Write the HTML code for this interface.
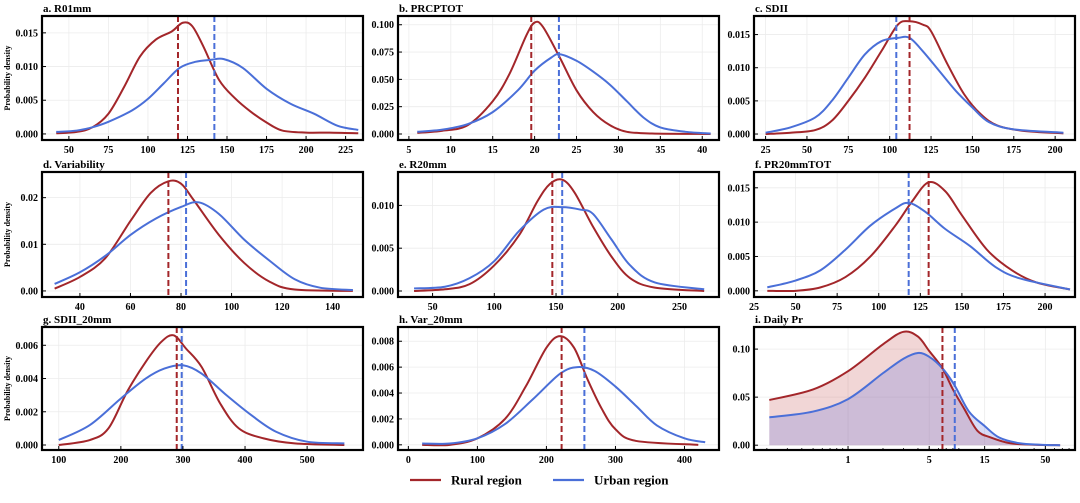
<!DOCTYPE html>
<html><head><meta charset="utf-8"><style>
body{margin:0;background:#fff;}
svg text{font-family:"Liberation Serif",serif;font-weight:bold;}
</style></head><body>
<svg id="fig" width="1080" height="498" viewBox="0 0 1080 498" xmlns="http://www.w3.org/2000/svg"></svg>
<script>
// ---- data (per panel) ----
const aRuralX=[42,55,65,75,85,95,105,115,122,128,135,145,155,165,175,185,200,215,233];
const aRuralY=[0.0001,0.0003,0.001,0.003,0.007,0.0115,0.014,0.0152,0.0165,0.016,0.013,0.008,0.0053,0.0033,0.0017,0.0005,0.0002,0.0002,0.0001];
const aUrbanX=[42,55,65,75,90,100,110,120,130,140,148,160,175,190,205,220,233];
const aUrbanY=[0.0003,0.0005,0.001,0.0018,0.0035,0.0052,0.0075,0.0098,0.0107,0.011,0.0111,0.0098,0.0067,0.0045,0.003,0.0012,0.0006];
const bRuralX=[6,9,12,15,17,19,20,21,23,25,27,29,31,34,41];
const bRuralY=[0.001,0.003,0.008,0.03,0.055,0.09,0.102,0.098,0.07,0.04,0.02,0.008,0.002,0.0005,0];
const bUrbanX=[6,9,12,15,18,20,22,23,25,27,29,31,33,35,38,41];
const bUrbanY=[0.002,0.004,0.009,0.02,0.04,0.058,0.07,0.073,0.067,0.057,0.045,0.03,0.015,0.006,0.002,0.0005];
const cRuralX=[25,40,55,65,75,85,95,105,112,120,125,135,145,155,165,180,205];
const cRuralY=[0,0.0002,0.0006,0.002,0.005,0.0085,0.0125,0.0165,0.017,0.0165,0.0155,0.0105,0.006,0.003,0.0013,0.0005,0.0001];
const cUrbanX=[25,40,55,65,75,85,95,105,112,120,130,140,150,160,175,205];
const cUrbanY=[0.0002,0.001,0.0025,0.005,0.0085,0.012,0.014,0.0145,0.0145,0.0125,0.0095,0.0065,0.004,0.0018,0.0007,0.0002];
const dRuralX=[30,40,50,60,68,75,80,85,95,105,115,125,148];
const dRuralY=[0.0005,0.003,0.007,0.015,0.021,0.0235,0.023,0.0195,0.012,0.006,0.002,0.0003,0];
const dUrbanX=[30,40,50,60,70,80,87,95,105,115,125,135,148];
const dUrbanY=[0.0015,0.004,0.0075,0.012,0.0155,0.018,0.019,0.0165,0.011,0.0065,0.0025,0.0007,0.0002];
const eRuralX=[35,60,80,100,120,135,145,155,165,180,195,210,230,270];
const eRuralY=[0,0.0002,0.0008,0.003,0.0065,0.0105,0.0125,0.013,0.0115,0.0075,0.004,0.0015,0.0004,0];
const eUrbanX=[35,60,80,100,120,140,155,170,180,195,210,230,270];
const eUrbanY=[0.0003,0.0005,0.0015,0.0035,0.007,0.0095,0.0098,0.0095,0.009,0.006,0.003,0.001,0.0002];
const fRuralX=[33,50,65,80,95,110,120,130,140,150,165,180,195,215];
const fRuralY=[0,0,0.0005,0.002,0.005,0.0095,0.013,0.0158,0.0145,0.011,0.006,0.003,0.0012,0.0002];
const fUrbanX=[33,50,65,80,95,110,118,128,140,155,170,185,215];
const fUrbanY=[0.0005,0.0015,0.003,0.006,0.0095,0.012,0.0128,0.0115,0.009,0.0065,0.0035,0.0018,0.0002];
const gRuralX=[100,150,180,210,240,265,285,305,330,360,390,430,480,560];
const gRuralY=[0,0.0003,0.001,0.0032,0.005,0.0062,0.0066,0.0058,0.0047,0.0025,0.001,0.0004,0.0001,0];
const gUrbanX=[100,150,200,240,270,300,330,370,410,450,500,560];
const gUrbanY=[0.0003,0.0012,0.0028,0.004,0.0046,0.0048,0.0043,0.003,0.0018,0.0008,0.0002,0.0001];
const hRuralX=[20,60,100,140,170,200,220,240,260,280,300,330,420];
const hRuralY=[0,0,0.0005,0.002,0.0045,0.0075,0.0084,0.0075,0.005,0.0028,0.0012,0.0003,0];
const hUrbanX=[20,60,100,140,180,220,245,270,300,330,360,400,430];
const hUrbanY=[0.0001,0.0001,0.0005,0.0016,0.0035,0.0055,0.006,0.0057,0.0045,0.003,0.0015,0.0005,0.0002];
const iRuralX=[0.21,0.5,1,2,3,4,5,6.5,8,10,13,17,25,40,67];
const iRuralY=[0.047,0.058,0.077,0.105,0.118,0.113,0.098,0.08,0.058,0.038,0.015,0.008,0.002,0.0005,0];
const iUrbanX=[0.21,0.5,1,2,3,4,5,6.5,8.3,11,15,20,30,45,67];
const iUrbanY=[0.029,0.035,0.048,0.075,0.09,0.096,0.092,0.08,0.062,0.035,0.02,0.008,0.002,0.0005,0];
const meansRural=[119,19.6,112,75,147,130,290,222,6.5];
const meansUrban=[142,22.9,104,82,155,118,298,255,8.3];
const titles=["a. R01mm","b. PRCPTOT","c. SDII","d. Variability","e. R20mm","f. PR20mmTOT","g. SDII_20mm","h. Var_20mm","i. Daily Pr"];
const xTicks=[[50,75,100,125,150,175,200,225],[5,10,15,20,25,30,35,40],[25,50,75,100,125,150,175,200],[40,60,80,100,120,140],[50,100,150,200,250],[25,50,75,100,125,150,175,200],[100,200,300,400,500],[0,100,200,300,400],[1,5,15,50]];
const yTicks=[[0,0.005,0.01,0.015],[0,0.025,0.05,0.075,0.1],[0,0.005,0.01,0.015],[0,0.01,0.02],[0,0.005,0.01],[0,0.005,0.01,0.015],[0,0.002,0.004,0.006],[0,0.002,0.004,0.006,0.008],[0,0.05,0.1]];
const yFmt=[3,3,3,2,3,3,3,3,2];
const xDom=[[33,236],[3.7,42],[18,212],[25,152],[22,282],[25,218],[73,590],[-15,450],[0.155,90]];
const yDom=[[-0.0009,0.0175],[-0.0055,0.108],[-0.0009,0.0178],[-0.0013,0.0255],[-0.0007,0.0139],[-0.0009,0.0173],[-0.0003,0.0071],[-0.0004,0.0091],[-0.005,0.123]];
const series=[[aRuralX,aRuralY,aUrbanX,aUrbanY],[bRuralX,bRuralY,bUrbanX,bUrbanY],[cRuralX,cRuralY,cUrbanX,cUrbanY],[dRuralX,dRuralY,dUrbanX,dUrbanY],[eRuralX,eRuralY,eUrbanX,eUrbanY],[fRuralX,fRuralY,fUrbanX,fUrbanY],[gRuralX,gRuralY,gUrbanX,gUrbanY],[hRuralX,hRuralY,hUrbanX,hUrbanY],[iRuralX,iRuralY,iUrbanX,iUrbanY]];

const NS="http://www.w3.org/2000/svg";
const svg=document.getElementById('fig');
const RED="#a3262a",BLUE="#4a6fd8";
const colX=[42,398,754],rowY=[[16,140],[172,297],[327,450]],W=321;
function mk(tag,attrs,parent){const e=document.createElementNS(NS,tag);for(const k in attrs)e.setAttribute(k,attrs[k]);(parent||svg).appendChild(e);return e;}
function smooth(pts){let d="M"+pts[0][0]+","+pts[0][1];for(let i=0;i<pts.length-1;i++){const p0=pts[Math.max(0,i-1)],p1=pts[i],p2=pts[i+1],p3=pts[Math.min(pts.length-1,i+2)];const c1=[p1[0]+(p2[0]-p0[0])/6,p1[1]+(p2[1]-p0[1])/6],c2=[p2[0]-(p3[0]-p1[0])/6,p2[1]-(p3[1]-p1[1])/6];d+=" C"+c1[0]+","+c1[1]+" "+c2[0]+","+c2[1]+" "+p2[0]+","+p2[1];}return d;}

for(let p=0;p<9;p++){
  const L=colX[p%3],T=rowY[Math.floor(p/3)][0],B=rowY[Math.floor(p/3)][1],R=L+W;
  const isLog=p===8;
  const g=mk('g',{});
  
  
  const sx=v=>{const [a,b]=xDom[p];if(isLog)return L+(Math.log10(v)-Math.log10(a))/(Math.log10(b)-Math.log10(a))*W;return L+(v-a)/(b-a)*W;};
  const sy=v=>{const [a,b]=yDom[p];return B-(v-a)/(b-a)*(B-T);};
  // grid
  xTicks[p].forEach(t=>{const l=mk('line',{x1:sx(t),x2:sx(t),y1:T,y2:B,stroke:"#ececec","stroke-width":0.8},g);});
  yTicks[p].forEach(t=>{const l=mk('line',{x1:L,x2:R,y1:sy(t),y2:sy(t),stroke:"#ececec","stroke-width":0.8},g);});
  const [rx,ry,ux,uy]=series[p];
  const rp=rx.map((x,i)=>[sx(x),sy(ry[i])]),up=ux.map((x,i)=>[sx(x),sy(uy[i])]);
  if(isLog){
    const fr=mk('path',{d:smooth(rp)+" L"+rp[rp.length-1][0]+","+sy(0)+" L"+rp[0][0]+","+sy(0)+"Z",fill:"rgba(200,90,90,0.25)"},g);
    
    const fu=mk('path',{d:smooth(up)+" L"+up[up.length-1][0]+","+sy(0)+" L"+up[0][0]+","+sy(0)+"Z",fill:"rgba(100,110,220,0.25)"},g);
    
  }
  const cr=mk('path',{d:smooth(rp),fill:"none",stroke:RED,"stroke-width":2},g);
  
  const cu=mk('path',{d:smooth(up),fill:"none",stroke:BLUE,"stroke-width":2},g);
  
  const mr=mk('line',{x1:sx(meansRural[p]),x2:sx(meansRural[p]),y1:T,y2:B,stroke:RED,"stroke-width":2,"stroke-dasharray":"6,3"},g);
  
  const mu=mk('line',{x1:sx(meansUrban[p]),x2:sx(meansUrban[p]),y1:T,y2:B,stroke:BLUE,"stroke-width":2,"stroke-dasharray":"6,3"},g);
  
  const fr=mk('rect',{x:L,y:T,width:W,height:B-T,fill:"none",stroke:"#000","stroke-width":2.2},g);
  
  xTicks[p].forEach(t=>{
    mk('line',{x1:sx(t),x2:sx(t),y1:B,y2:B-4,stroke:"#000","stroke-width":1},g);
    const tx=mk('text',{x:sx(t),y:B+13,"text-anchor":"middle","font-size":10},g);tx.textContent=t;
    
  });
  if(isLog){for(let d=0.1;d<100;d*=10)for(let k=2;k<=9;k++){const v=d*k;if(v>xDom[p][0]&&v<xDom[p][1])mk('line',{x1:sx(v),x2:sx(v),y1:B,y2:B-2,stroke:"#000","stroke-width":0.8},g);}}
  yTicks[p].forEach(t=>{
    mk('line',{x1:L,x2:L+4,y1:sy(t),y2:sy(t),stroke:"#000","stroke-width":1},g);
    const tx=mk('text',{x:L-4,y:sy(t)+3.5,"text-anchor":"end","font-size":10},g);tx.textContent=t.toFixed(yFmt[p]);
    
  });
  const tt=mk('text',{x:L+1,y:T-4,"font-size":11},g);tt.textContent=titles[p];
  
  if(p%3===0){
    const yl=mk('text',{x:0,y:0,"font-size":8,"text-anchor":"middle",transform:"translate(10,"+((T+B)/2)+") rotate(-90)"},g);yl.textContent="Probability density";
    
  }
}
// legend
const lg=mk('g',{});


const l1=mk('line',{x1:410,x2:441,y1:480,y2:480,stroke:RED,"stroke-width":2.2},lg);

const t1=mk('text',{x:451,y:484.5,"font-size":13},lg);t1.textContent="Rural region";

const l2=mk('line',{x1:553,x2:584,y1:480,y2:480,stroke:BLUE,"stroke-width":2.2},lg);

const t2=mk('text',{x:594,y:484.5,"font-size":13},lg);t2.textContent="Urban region";

</script>
</body></html>
